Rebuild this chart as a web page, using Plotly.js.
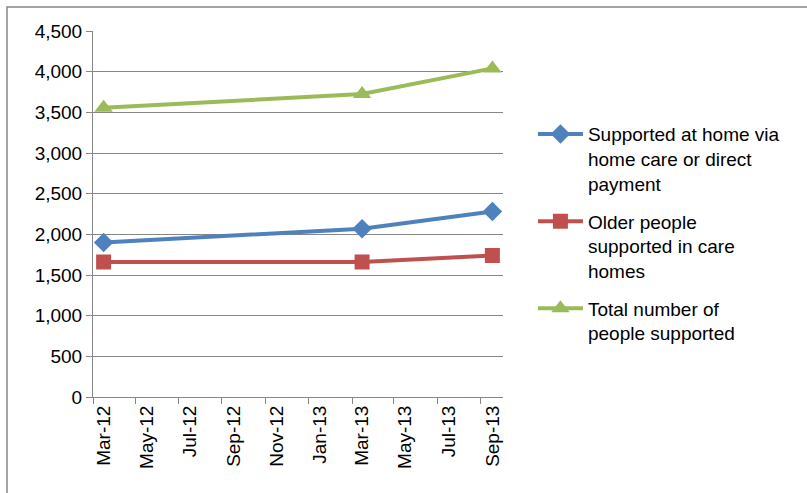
<!DOCTYPE html>
<html>
<head>
<meta charset="utf-8">
<script src="https://cdn.plot.ly/plotly-3.0.1.min.js"></script>
<style>
html,body{margin:0;padding:0;background:#fff;}
#chart{width:807px;height:493px;}
</style>
</head>
<body>
<div id="chart"></div>
<script>
// Data
const dates = ['2012-03-01', '2013-03-01', '2013-09-01'];
const homeCare = [1900, 2070, 2280];
const careHomes = [1660, 1660, 1740];
const total = [3555, 3725, 4040];
const seriesNames = [
  'Supported at home via<br>home care or direct<br>payment',
  'Older people<br>supported in care<br>homes',
  'Total number of<br>people supported'
];
const yTicks = [0, 500, 1000, 1500, 2000, 2500, 3000, 3500, 4000, 4500];

const FONT = 'Liberation Sans, Arial, sans-serif';

function tr(y, name, color, symbol, size, grp) {
  return {
    x: dates, y: y, name: name, type: 'scatter', mode: 'lines+markers',
    legendgroup: grp,
    line: {color: color, width: 4},
    marker: {symbol: symbol, size: size, color: color}
  };
}

const data = [
  tr(homeCare, seriesNames[0], '#4F81BD', 'diamond', 15, 'a'),
  tr(careHomes, seriesNames[1], '#C0504D', 'square', 15, 'b'),
  tr(total, seriesNames[2], '#9BBB59', 'triangle-up', 16, 'c')
];

const layout = {
  width: 807, height: 493,
  margin: {l: 93, r: 304, t: 31, b: 96},
  paper_bgcolor: '#fff', plot_bgcolor: '#fff',
  font: {family: FONT, size: 19, color: '#000'},
  showlegend: true,
  legend: {
    x: 1.073, xanchor: 'left', y: 0.77, yanchor: 'top',
    font: {family: FONT, size: 19, color: '#000'},
    itemwidth: 45, traceorder: 'grouped', tracegroupgap: 10,
    valign: 'top', bgcolor: 'rgba(0,0,0,0)'
  },
  xaxis: {
    type: 'date',
    range: ['2012-02-15', '2013-09-16'],
    tickmode: 'linear', tick0: '2012-03-01', dtick: 'M2',
    tickformat: '%b-%y', tickangle: -90,
    ticks: '', showgrid: false, zeroline: false,
    showline: true, linecolor: '#868686', linewidth: 1,
    tickfont: {family: FONT, size: 19, color: '#000'},
    minor: {tickmode: 'linear', tick0: '2012-02-15', dtick: 'M2', ticks: 'outside', ticklen: 6, tickcolor: '#868686', showgrid: false}
  },
  yaxis: {
    range: [0, 4500], tickvals: yTicks,
    tickformat: ',d',
    ticks: 'outside', ticklen: 6, tickcolor: '#868686',
    showgrid: true, gridcolor: '#868686', gridwidth: 1,
    zeroline: false, showline: true, linecolor: '#868686', linewidth: 1,
    tickfont: {family: FONT, size: 19, color: '#000'}
  },
  shapes: [{
    type: 'rect', xref: 'paper', yref: 'paper',
    x0: -0.2098, x1: 2, y0: -1, y1: 1.0656,
    line: {color: '#868686', width: 1.5}, fillcolor: 'rgba(0,0,0,0)'
  }]
};

Plotly.newPlot('chart', data, layout, {displayModeBar: false, staticPlot: true});
</script>
</body>
</html>
